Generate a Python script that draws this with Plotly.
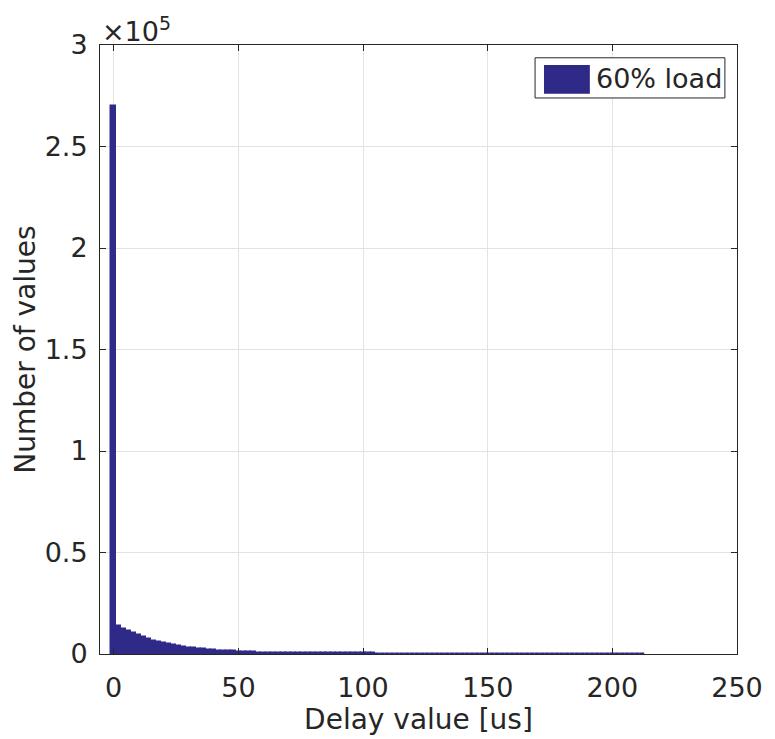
import plotly.graph_objects as go

# Histogram bin centres (us) and counts
bin_centers = [0, 2, 4, 6, 8, 10, 12, 14, 16, 18, 20, 22, 24, 26, 28, 30, 32, 34, 36, 38,
               40, 42, 44, 46, 48, 50, 52, 54, 56,
               58, 60, 62, 64, 66, 68, 70, 72, 74, 76, 78, 80, 82, 84, 86, 88, 90, 92, 94, 96, 98,
               100, 102, 104, 106, 108, 110, 112, 114, 116, 118, 120, 122, 124, 126, 128, 130,
               132, 134, 136, 138, 140, 142, 144, 146, 148, 150, 152, 154, 156, 158, 160, 162,
               164, 166, 168, 170, 172, 174, 176, 178, 180, 182, 184, 186, 188, 190, 192, 194,
               196, 198, 200, 202, 204, 206, 208, 210, 212]
counts = [270000, 14000, 12500, 11300, 10200, 9200, 8200, 7300, 6500, 5800, 5200, 4700, 4200,
          3900, 3500, 3200, 2900, 2600, 2300, 2100, 1900, 1700, 1500, 1400, 1300, 1200, 1100,
          1050, 1000,
          420, 410, 400, 390, 380, 370, 360, 350, 340, 330, 320, 310, 300, 300, 290, 290, 280,
          280, 270, 270, 260, 260, 250, 250, 240, 240, 230, 230, 220, 220, 210, 210, 200, 200,
          200, 190, 190, 190, 180, 180, 180, 170, 170, 170, 160, 160, 160, 150, 150, 150, 150,
          140, 140, 140, 140, 130, 130, 130, 130, 120, 120, 120, 120, 110, 110, 110, 110, 110,
          100, 100, 100, 100, 100, 100, 90, 90, 90, 90]
bin_width = 2
series_name = "60% load"

x_ticks = [0, 50, 100, 150, 200, 250]
y_tickvals = [0, 50000, 100000, 150000, 200000, 250000, 300000]
y_ticktext = ["0", "0.5", "1", "1.5", "2", "2.5", "3"]

color = "#2f2a87"
ink = "#262626"
font = "DejaVu Sans"

fig = go.Figure()
fig.add_trace(go.Bar(
    x=bin_centers, y=counts, width=[bin_width] * len(bin_centers),
    name=series_name,
    marker=dict(color=color, line=dict(color=color, width=1.5)),
    showlegend=False,
))

# Manual legend (MATLAB style wide swatch)
fig.add_shape(type="rect", xref="paper", yref="paper",
              x0=0.683, x1=0.981, y0=0.913, y1=0.979,
              line=dict(color=ink, width=1), fillcolor="white", layer="above")
fig.add_shape(type="rect", xref="paper", yref="paper",
              x0=0.697, x1=0.769, y0=0.920, y1=0.967,
              line=dict(color=color, width=0), fillcolor=color, layer="above")
fig.add_annotation(text=series_name, xref="paper", yref="paper", x=0.775, y=0.945,
                   xanchor="left", yanchor="middle", showarrow=False,
                   font=dict(size=27, family=font, color=ink))

fig.update_layout(
    width=775, height=739,
    margin=dict(l=100, r=34, t=45, b=76),
    paper_bgcolor="white", plot_bgcolor="white",
    bargap=0,
    font=dict(family=font, color=ink),
    showlegend=False,
    xaxis=dict(
        range=[-5.5, 250], tickvals=x_ticks,
        ticks="inside", ticklen=6, tickcolor=ink,
        showgrid=True, gridcolor="#e3e3e3", gridwidth=1,
        showline=True, linecolor=ink, linewidth=1, mirror="ticks",
        zeroline=False, ticklabelstandoff=10,
        tickfont=dict(size=27, family=font, color=ink),
        title=dict(text="Delay value [us]", font=dict(size=28, family=font, color=ink), standoff=4),
    ),
    yaxis=dict(
        range=[0, 300000], tickvals=y_tickvals, ticktext=y_ticktext,
        ticks="inside", ticklen=6, tickcolor=ink,
        showgrid=True, gridcolor="#e3e3e3", gridwidth=1,
        showline=True, linecolor=ink, linewidth=1, mirror="ticks",
        zeroline=False, ticklabelstandoff=6,
        tickfont=dict(size=27, family=font, color=ink),
        title=dict(text="Number of values", font=dict(size=28, family=font, color=ink), standoff=0),
    ),
    annotations=list(fig.layout.annotations) + [dict(
        text="×10<sup>5</sup>", xref="paper", yref="paper", x=0.0, y=1.0,
        xanchor="left", yanchor="bottom", showarrow=False, yshift=-4,
        font=dict(size=27, family=font, color=ink),
    )],
)

fig.write_html("out.html", post_script="document.body.style.margin='0';",
               config={"displayModeBar": False})
